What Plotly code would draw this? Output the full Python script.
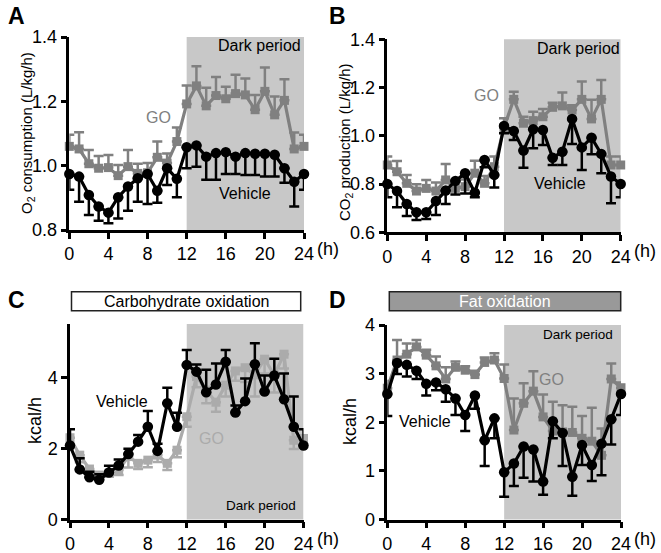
import plotly.graph_objects as go

hours = list(range(25))

# Panel A: O2 consumption (L/kg/h)
a_go = [1.060, 1.052, 1.006, 0.992, 0.994, 0.969, 0.997, 0.976, 0.978, 1.026, 1.008, 1.075, 1.192,
        1.248, 1.186, 1.218, 1.208, 1.224, 1.220, 1.174, 1.231, 1.158, 1.203, 1.052, 1.060]
a_go_err = [0.036, 0.052, 0.043, 0.038, 0.039, 0.033, 0.052, 0.030, 0.030, 0.049, 0.030, 0.044, 0.057,
            0.061, 0.056, 0.058, 0.037, 0.059, 0.051, 0.046, 0.074, 0.057, 0.066, 0.051, 0.036]
a_veh = [0.974, 0.966, 0.909, 0.873, 0.854, 0.902, 0.935, 0.961, 0.974, 0.922, 0.992, 0.959, 1.057,
         1.063, 1.028, 1.039, 1.042, 1.028, 1.039, 1.037, 1.037, 1.034, 0.992, 0.950, 0.974]
a_veh_err = [0.049, 0.078, 0.062, 0.044, 0.033, 0.066, 0.075, 0.073, 0.093, 0.037, 0.052, 0.057, 0.065,
             0.066, 0.072, 0.083, 0.068, 0.054, 0.068, 0.066, 0.071, 0.068, 0.045, 0.077, 0.049]

# Panel B: CO2 production (L/kg/h)
b_go = [0.879, 0.851, 0.803, 0.771, 0.782, 0.771, 0.817, 0.782, 0.789, 0.845, 0.803, 0.872, 1.034,
        1.151, 1.052, 1.063, 1.079, 1.118, 1.124, 1.107, 1.151, 1.070, 1.151, 0.879, 0.879]
b_go_err = [0.035, 0.045, 0.035, 0.028, 0.035, 0.035, 0.066, 0.030, 0.030, 0.052, 0.030, 0.042, 0.039,
            0.032, 0.027, 0.037, 0.032, 0.019, 0.055, 0.020, 0.074, 0.079, 0.080, 0.035, 0.035]
b_veh = [0.800, 0.771, 0.717, 0.683, 0.683, 0.730, 0.773, 0.813, 0.845, 0.764, 0.900, 0.838, 1.041,
         1.020, 0.939, 1.027, 1.024, 0.909, 0.934, 1.070, 0.952, 0.992, 0.925, 0.831, 0.800]
b_veh_err = [0.055, 0.067, 0.049, 0.032, 0.028, 0.058, 0.056, 0.056, 0.084, 0.019, 0.030, 0.052, 0.030,
             0.037, 0.071, 0.079, 0.062, 0.030, 0.055, 0.104, 0.094, 0.068, 0.080, 0.111, 0.055]

# Panel C: Carbohydrate oxidation (kcal/h)
c_go = [2.30, 1.81, 1.42, 1.25, 1.30, 1.39, 1.77, 1.58, 1.67, 1.81, 1.58, 1.95, 2.89,
        4.02, 3.64, 3.30, 3.78, 4.18, 4.27, 4.07, 4.51, 4.07, 4.65, 2.23, 2.28]
c_go_err = [0.20, 0.20, 0.10, 0.10, 0.10, 0.14, 0.31, 0.16, 0.20, 0.19, 0.19, 0.20, 0.28,
            0.30, 0.37, 0.27, 0.32, 0.28, 0.40, 0.61, 0.40, 0.50, 0.40, 0.25, 0.20]
c_veh = [2.08, 1.41, 1.19, 1.12, 1.32, 1.52, 1.84, 2.19, 2.61, 1.93, 3.27, 2.61, 4.35,
         4.16, 3.58, 3.80, 4.44, 3.01, 3.33, 4.37, 3.60, 4.05, 3.38, 2.61, 2.08]
c_veh_err = [0.46, 0.31, 0.15, 0.15, 0.19, 0.17, 0.15, 0.19, 0.44, 0.20, 0.44, 0.39, 0.42,
             0.20, 0.63, 0.59, 0.33, 0.20, 0.64, 0.59, 0.45, 0.47, 0.73, 0.85, 0.46]

# Panel D: Fat oxidation (kcal/h)
d_go = [2.70, 3.28, 3.40, 3.55, 3.38, 3.16, 2.89, 3.13, 3.07, 2.98, 3.23, 3.28, 2.90,
        1.84, 2.39, 2.64, 2.11, 1.82, 1.80, 1.79, 1.67, 1.61, 1.32, 2.89, 2.71]
d_go_err = [0.15, 0.41, 0.22, 0.14, 0.11, 0.19, 0.24, 0.12, 0.08, 0.08, 0.10, 0.14, 0.29,
            0.65, 0.41, 0.41, 0.46, 0.60, 0.55, 0.53, 0.46, 0.69, 0.55, 0.32, 0.11]
d_veh = [2.58, 3.22, 3.18, 3.06, 2.79, 2.82, 2.68, 2.49, 2.15, 2.55, 1.63, 2.08, 0.97,
         1.15, 1.50, 1.44, 0.78, 2.02, 1.78, 0.88, 1.53, 1.12, 1.56, 2.06, 2.58]
d_veh_err = [0.45, 0.23, 0.24, 0.17, 0.24, 0.16, 0.26, 0.34, 0.33, 0.27, 0.53, 0.41, 0.50,
             0.46, 0.64, 0.66, 0.27, 0.35, 0.68, 0.39, 0.41, 0.33, 0.65, 0.52, 0.43]

x_ticks = [0, 4, 8, 12, 16, 20, 24]
dark_start, dark_end = 12, 24

W, H = 661, 553
FONT = "Liberation Sans, Arial, sans-serif"
GRAY = "#808080"
LIGHT = "#ababab"
SHADE = "#c8c8c8"


def px(x):
    return x / W


def py(y):
    return 1 - y / H


fig = go.Figure()

panels = [
    dict(ax="", xd=(69.3, 304), yd=(230, 37), yr=[0.8, 1.4], yt=[0.8, 1.0, 1.2, 1.4], fmt=".1f",
         go=a_go, goe=a_go_err, gc=GRAY, go_up=True, veh=a_veh, vehe=a_veh_err, veh_up=False),
    dict(ax="2", xd=(387.3, 620.7), yd=(232.3, 39.3), yr=[0.6, 1.4], yt=[0.6, 0.8, 1.0, 1.2, 1.4], fmt=".1f",
         go=b_go, goe=b_go_err, gc=GRAY, go_up=True, veh=b_veh, vehe=b_veh_err, veh_up=False),
    dict(ax="3", xd=(70, 303.5), yd=(519.5, 324), yr=[0, 5.5], yt=[0, 2, 4], fmt="d",
         go=c_go, goe=c_go_err, gc=LIGHT, go_up=False, veh=c_veh, vehe=c_veh_err, veh_up=True),
    dict(ax="4", xd=(387.3, 621), yd=(519.5, 325), yr=[0, 4], yt=[0, 1, 2, 3, 4], fmt="d",
         go=d_go, goe=d_go_err, gc=GRAY, go_up=True, veh=d_veh, vehe=d_veh_err, veh_up=False),
]

layout_axes = {}
shapes = []
annotations = []

for p in panels:
    xa = "x" + p["ax"]
    ya = "y" + p["ax"]
    zeros = [0] * len(hours)
    fig.add_trace(go.Scatter(
        x=hours, y=p["go"], xaxis=xa, yaxis=ya, mode="lines+markers",
        line=dict(color=p["gc"], width=3.2),
        marker=dict(symbol="square", size=9, color=p["gc"]),
        error_y=dict(type="data", symmetric=False,
                     array=p["goe"] if p["go_up"] else zeros,
                     arrayminus=zeros if p["go_up"] else p["goe"],
                     color=p["gc"], thickness=2.5, width=5),
        cliponaxis=False, showlegend=False))
    fig.add_trace(go.Scatter(
        x=hours, y=p["veh"], xaxis=xa, yaxis=ya, mode="lines+markers",
        line=dict(color="black", width=3.2),
        marker=dict(symbol="circle", size=10.5, color="black"),
        error_y=dict(type="data", symmetric=False,
                     array=p["vehe"] if p["veh_up"] else zeros,
                     arrayminus=zeros if p["veh_up"] else p["vehe"],
                     color="black", thickness=2.5, width=5),
        cliponaxis=False, showlegend=False))

    xk = "xaxis" + p["ax"]
    yk = "yaxis" + p["ax"]
    layout_axes[xk] = dict(
        domain=[px(p["xd"][0]), px(p["xd"][1])], range=[0, 24], anchor=ya, automargin=False,
        tickvals=x_ticks, ticks="outside", ticklen=6, tickwidth=2.5, tickcolor="black",
        showline=True, linewidth=2.5, linecolor="black", showgrid=False, zeroline=False,
        tickfont=dict(family=FONT, size=18, color="black"), fixedrange=True)
    layout_axes[yk] = dict(
        domain=[py(p["yd"][0]), py(p["yd"][1])], range=p["yr"], anchor=xa, automargin=False,
        tickvals=p["yt"], tickformat=p["fmt"], ticks="outside", ticklen=6, tickwidth=2.5,
        tickcolor="black", showline=True, linewidth=2.5, linecolor="black", showgrid=False,
        zeroline=False, tickfont=dict(family=FONT, size=18, color="black"), fixedrange=True)

    shapes.append(dict(type="rect", xref=xa, yref=ya + " domain", x0=dark_start, x1=dark_end,
                       y0=0, y1=1, fillcolor=SHADE, line=dict(width=0), layer="below"))
    annotations.append(dict(text="(h)", xref=xa, yref=ya + " domain", x=24, y=0,
                            xanchor="left", yanchor="middle", xshift=11, yshift=-19, showarrow=False,
                            font=dict(family=FONT, size=18, color="black")))


def label(text, xa, ya, x, y, size=16, color="black"):
    annotations.append(dict(text=text, xref=xa, yref=ya, x=x, y=y, showarrow=False,
                            xanchor="center", yanchor="middle",
                            font=dict(family=FONT, size=size, color=color)))


label("GO", "x", "y", 9.07, 1.151, color=GRAY)
label("Vehicle", "x", "y", 17.97, 0.915)
label("Dark period", "x", "y", 19.43, 1.373)
label("GO", "x2", "y2", 10.22, 1.169, color=GRAY)
label("Vehicle", "x2", "y2", 17.76, 0.803)
label("Dark period", "x2", "y2", 19.64, 1.36)
label("Vehicle", "x3", "y3", 5.32, 3.33)
label("GO", "x3", "y3", 14.58, 2.27, color=LIGHT)
label("Dark period", "x3", "y3", 19.65, 0.40, size=13.5)
label("Dark period", "x4", "y4", 19.6, 3.81, size=13.5)
label("GO", "x4", "y4", 16.88, 2.87, color=GRAY)
label("Vehicle", "x4", "y4", 3.87, 2.01)


def paper_text(text, x, y, size, angle=0, bold=False, color="black"):
    annotations.append(dict(text=("<b>%s</b>" % text) if bold else text, xref="paper", yref="paper",
                            x=px(x), y=py(y), showarrow=False, xanchor="center", yanchor="middle",
                            textangle=angle, font=dict(family=FONT, size=size, color=color)))


paper_text("O<sub>2</sub> consumption (L/kg/h)", 28, 133, 15, angle=-90)
paper_text("CO<sub>2</sub> production (L/kg/h)", 345, 142, 15, angle=-90)
paper_text("kcal/h", 35, 421, 18, angle=-90)
paper_text("kcal/h", 350, 421, 18, angle=-90)

paper_text("A", 16, 16, 23, bold=True)
paper_text("B", 337, 16, 23, bold=True)
paper_text("C", 16, 300, 23, bold=True)
paper_text("D", 337, 300, 23, bold=True)

shapes.append(dict(type="rect", xref="paper", yref="paper", x0=px(71.5), x1=px(300.7),
                   y0=py(310.7), y1=py(291.7), fillcolor="white", line=dict(color="#222", width=1.5)))
shapes.append(dict(type="rect", xref="paper", yref="paper", x0=px(389.3), x1=px(620.7),
                   y0=py(310.7), y1=py(291.7), fillcolor="#999999", line=dict(color="#222", width=1.5)))
paper_text("Carbohydrate oxidation", (71.5 + 300.7) / 2, 301.2, 16)
paper_text("Fat oxidation", (389.3 + 620.7) / 2, 301.2, 16, color="white")

fig.update_layout(
    width=W, height=H, margin=dict(l=0, r=0, t=0, b=0, autoexpand=False),
    paper_bgcolor="white", plot_bgcolor="rgba(0,0,0,0)",
    shapes=shapes, annotations=annotations, showlegend=False,
    font=dict(family=FONT),
    **layout_axes)

fig.write_html("out.html", config={"displayModeBar": False},
               post_script="document.body.style.margin='0';document.body.style.overflow='hidden';")
